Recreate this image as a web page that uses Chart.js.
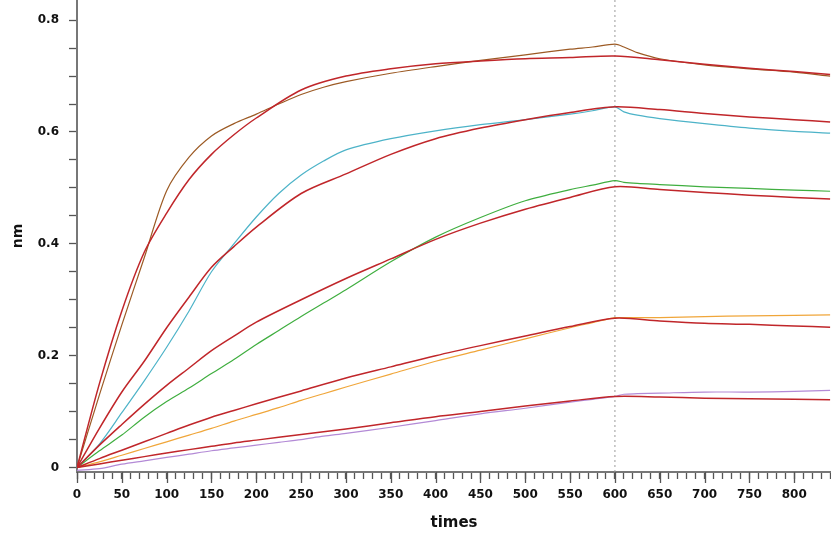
<!DOCTYPE html>
<html>
<head>
<meta charset="utf-8">
<script src="https://cdn.jsdelivr.net/npm/chart.js@4.4.1/dist/chart.umd.min.js"></script>
<style>
html,body{margin:0;padding:0;background:#fff;}
#wrap{width:831px;height:543px;}
</style>
</head>
<body>
<div id="wrap"><canvas id="c" width="831" height="543"></canvas></div>
<script>
// ---- data ----
const fitTimes = [0,25,50,75,100,125,150,175,200,250,300,350,400,450,500,550,600,650,700,750,800,840];
const fit1 = [0,0.15,0.28,0.385,0.455,0.515,0.56,0.595,0.625,0.675,0.70,0.713,0.722,0.727,0.731,0.733,0.736,0.729,0.721,0.714,0.708,0.703];
const fit2 = [0,0.07,0.135,0.19,0.25,0.305,0.358,0.395,0.43,0.49,0.525,0.56,0.588,0.607,0.622,0.635,0.645,0.640,0.633,0.627,0.622,0.618];
const fit3 = [0,0.04,0.077,0.113,0.147,0.178,0.209,0.235,0.26,0.30,0.338,0.373,0.408,0.437,0.462,0.483,0.502,0.497,0.492,0.487,0.483,0.480];
const fit4 = [0,0.016,0.031,0.046,0.061,0.076,0.09,0.102,0.114,0.137,0.16,0.18,0.20,0.218,0.235,0.252,0.267,0.262,0.258,0.256,0.253,0.251];
const fit5 = [0,0.0065,0.013,0.0195,0.026,0.032,0.038,0.044,0.049,0.059,0.069,0.08,0.091,0.10,0.11,0.119,0.127,0.126,0.124,0.123,0.122,0.121];

const dataTimes = [0,25,50,75,100,125,150,175,200,225,250,275,300,350,400,450,500,550,575,600,610,625,650,700,750,800,840];
const data1 = [0,0.13,0.255,0.375,0.495,0.555,0.593,0.615,0.632,0.65,0.667,0.68,0.69,0.705,0.717,0.728,0.738,0.748,0.752,0.757,0.752,0.742,0.731,0.720,0.713,0.707,0.700];
const data2 = [0,0.042,0.098,0.155,0.215,0.28,0.35,0.40,0.448,0.49,0.523,0.548,0.568,0.588,0.602,0.613,0.622,0.632,0.638,0.645,0.636,0.630,0.624,0.615,0.607,0.601,0.598];
const data3 = [0,0.03,0.058,0.09,0.118,0.142,0.168,0.193,0.22,0.245,0.27,0.294,0.318,0.368,0.412,0.447,0.477,0.497,0.505,0.513,0.510,0.508,0.506,0.502,0.499,0.496,0.494];
const data4 = [0,0.01,0.022,0.034,0.046,0.058,0.07,0.083,0.095,0.107,0.12,0.132,0.144,0.167,0.19,0.21,0.23,0.25,0.259,0.268,0.268,0.268,0.268,0.270,0.271,0.272,0.273];
const data5 = [-0.005,-0.002,0.006,0.012,0.018,0.024,0.03,0.035,0.04,0.045,0.05,0.056,0.061,0.072,0.084,0.096,0.106,0.117,0.122,0.127,0.131,0.132,0.133,0.135,0.135,0.136,0.138];

const xTickValues = [];
for (let v = 0; v <= 840; v += 10) xTickValues.push(v);
const yTickValues = [0,0.05,0.1,0.15,0.2,0.25,0.3,0.35,0.4,0.45,0.5,0.55,0.6,0.65,0.7,0.75,0.8];
const yTickLabels = {0:'0',0.2:'0.2',0.4:'0.4',0.6:'0.6',0.8:'0.8'};
const switchTime = 600;
const X_MIN = 0, X_MAX = 841, Y_MIN = -0.008, Y_MAX = 0.836;

// ---- build ----
const pts = (ts, vs) => ts.map((t, i) => ({x: t, y: vs[i]}));
const FIT_COLOR = '#c0262a';
const lineDs = (vals, times, color, w) => ({
  data: pts(times, vals), borderColor: color, borderWidth: w,
  pointRadius: 0, tension: 0.3, fill: false
});

const datasets = [
  lineDs(fit1, fitTimes, FIT_COLOR, 1.5),
  lineDs(fit2, fitTimes, FIT_COLOR, 1.5),
  lineDs(fit3, fitTimes, FIT_COLOR, 1.5),
  lineDs(fit4, fitTimes, FIT_COLOR, 1.5),
  lineDs(fit5, fitTimes, FIT_COLOR, 1.5),
  lineDs(data1, dataTimes, '#9c5a24', 1.2),
  lineDs(data2, dataTimes, '#4db3c8', 1.2),
  lineDs(data3, dataTimes, '#3fae3f', 1.2),
  lineDs(data4, dataTimes, '#f0a63a', 1.2),
  lineDs(data5, dataTimes, '#b38ad6', 1.2),
  {data: [{x: switchTime, y: Y_MIN}, {x: switchTime, y: Y_MAX}], borderColor: '#9a9a9a', borderWidth: 1,
   borderDash: [2, 3], pointRadius: 0, fill: false}
];

const majorTicks = {
  id: 'majorTicks',
  afterDraw(chart) {
    const xs = chart.scales.x;
    const ctx = chart.ctx;
    ctx.save();
    ctx.strokeStyle = '#555';
    ctx.lineWidth = 1.3;
    for (const v of xTickValues) {
      if (v % 50 !== 0) continue;
      const px = Math.round(xs.getPixelForValue(v)) + 0.5;
      ctx.beginPath();
      ctx.moveTo(px, xs.top);
      ctx.lineTo(px, xs.top + 11);
      ctx.stroke();
    }
    ctx.restore();
  }
};

const FONT = 'DejaVu Sans';
new Chart(document.getElementById('c'), {
  type: 'line',
  data: {datasets},
  plugins: [majorTicks],
  options: {
    responsive: false,
    animation: false,
    devicePixelRatio: 1,
    layout: {padding: {top: 0, right: 0, left: 0, bottom: 0}},
    plugins: {legend: {display: false}, tooltip: {enabled: false}},
    scales: {
      x: {
        type: 'linear', min: X_MIN, max: X_MAX,
        afterBuildTicks: s => { s.ticks = xTickValues.map(v => ({value: v})); },
        afterFit: s => { s.height = 71; s.paddingLeft = 0; s.paddingRight = 0; },
        grid: {drawOnChartArea: false, drawTicks: true, tickLength: 7, tickColor: '#555', tickWidth: 1.3},
        border: {display: true, color: '#777', width: 2},
        ticks: {
          autoSkip: false, maxRotation: 0, padding: 9, color: '#111',
          font: {family: FONT, size: 12, weight: 'bold'},
          callback: v => (v % 50 === 0 ? String(v) : '')
        },
        title: {display: true, text: 'times', color: '#111', font: {family: FONT, size: 15, weight: 'bold'}, padding: {top: 0, bottom: 11}}
      },
      y: {
        type: 'linear', min: Y_MIN, max: Y_MAX,
        afterBuildTicks: s => { s.ticks = yTickValues.map(v => ({value: v})); },
        afterFit: s => { s.width = 77; s.paddingTop = 0; s.paddingBottom = 0; },
        grid: {drawOnChartArea: false, drawTicks: true, tickLength: 8, tickColor: '#555', tickWidth: 1.3},
        border: {display: true, color: '#777', width: 2},
        ticks: {
          autoSkip: false, padding: 10, color: '#111',
          font: {family: FONT, size: 12, weight: 'bold'},
          callback: v => { const k = Math.round(v * 100) / 100; return yTickLabels[k] !== undefined ? yTickLabels[k] : ''; }
        },
        title: {display: true, text: 'nm', color: '#111', font: {family: FONT, size: 14, weight: 'bold'}, padding: {top: 10, bottom: 0}}
      }
    }
  }
});
</script>
</body>
</html>
